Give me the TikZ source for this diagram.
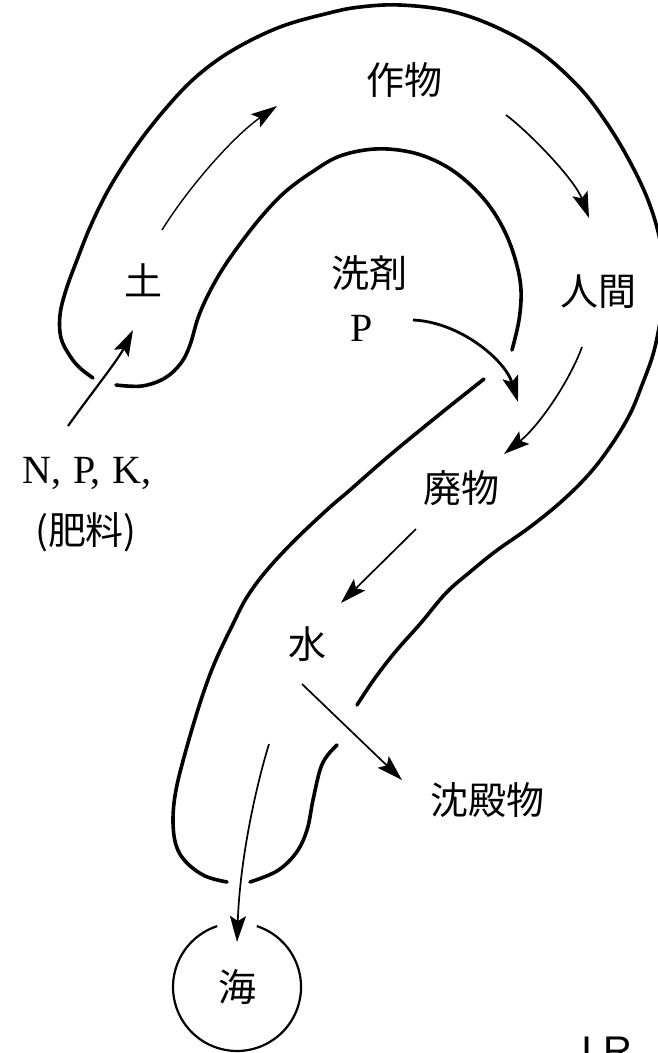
\documentclass[tikz,border=0pt]{standalone}
\usepackage{fontspec}
\setmainfont{Liberation Serif}
\newfontfamily\cjk{Noto Sans CJK JP}
\newfontfamily\sanf{Liberation Sans}
\usetikzlibrary{arrows.meta}
\begin{document}
\begin{tikzpicture}[x=1pt,y=-1pt,
  tube/.style={line width=3.6pt, line cap=round, line join=round},
  flow/.style={line width=1.7pt, -{Stealth[length=26pt,width=16pt,inset=5pt]}},
  lbl/.style={font=\cjk\fontsize{38}{40}\selectfont, inner sep=0pt},
  lat/.style={font=\fontsize{40}{42}\selectfont, inner sep=0pt}]
\clip (0,0) rectangle (658,1053);
\fill[white] (0,0) rectangle (658,1053);

% labels
\node[lbl] (tsuchi) at (143,280) {土};
\node[lbl] (sakumotsu) at (404,80) {作物};
\node[lbl] (senzai) at (369,273) {洗剤};
\node[lat] (p) at (362,328) {P};
\node[lbl] (ningen) at (598,292) {人間};
\node[lbl] (haibutsu) at (461,488) {廃物};
\node[lbl] (mizu) at (307,644) {水};
\node[lbl] (chinden) at (487,800) {沈殿物};
\node[lbl] (umi) at (237,987) {海};
\node[lat] (npk) at (87,473) {N,\kern12pt P,\kern12pt K,};
\node[lbl] (hiryo) at (86,532) {(肥料)};
\node[font=\sanf\fontsize{40}{42}\selectfont, anchor=base west, inner sep=0pt] (ir) at (581,1064) {I R};

% tube outline (question mark)
\draw[tube] plot[smooth, tension=0.6] coordinates {(116,385) (142,386) (165,378) (181,363) (190,345) (198,318) (208,295) (222,270) (240,244) (262,216) (285,192) (312,172) (340,156) (375,149) (410,152) (440,163) (465,180) (488,204) (505,232) (516,262) (521,290) (519,320) (512,350)};
\draw[tube] plot[smooth, tension=0.6] coordinates {(484,379) (440,414) (390,455) (350,490) (329,508) (295,540) (267,570) (247,597) (233,624) (215,662) (201,700) (186,750) (176,790) (173,820) (176,845) (186,862) (205,876) (227,882)};
\draw[tube] plot[smooth, tension=0.6] coordinates {(250,882) (277,871) (296,853) (307,830) (313,800) (320,770) (327,756) (337,745)};
\draw[tube] plot[smooth, tension=0.6] coordinates {(357,705) (375,678) (396,651) (420,624) (446,593) (470,572) (496,551) (530,527) (562,501) (590,473) (612,444) (630,414) (642,385) (654,351) (662,310) (665,280) (660,240) (648,200) (629,160) (606,122) (579,87) (540,52) (496,27) (450,11) (400,5) (360,7) (329,13) (280,27) (233,50) (197,76) (167,107) (137,145) (110,187) (91,225) (77,260) (66,290) (60,315) (61,338) (70,356) (80,368) (93,378)};

% sea circle with a gap at the top
\draw[line width=2.2pt] (umi.center) ++(19.8,-60.9) arc[start angle=72, end angle=-252, radius=64pt];

% arrow end points
\coordinate (tsuchi-out) at (162,230);
\coordinate (sakumotsu-in) at (277,106);
\coordinate (sakumotsu-out) at (506,115);
\coordinate (ningen-in) at (589,218);
\coordinate (p-out) at (413,320);
\coordinate (p-in) at (518,402);
\coordinate (ningen-out) at (582,347);
\coordinate (haibutsu-in) at (504,454);
\coordinate (haibutsu-out) at (416,529);
\coordinate (mizu-in) at (341,603);
\coordinate (mizu-out) at (302,684);
\coordinate (chinden-in) at (402,780);
\coordinate (umi-from) at (269,744);
\coordinate (umi-in) at (237,942);
\coordinate (npk-out) at (68,426);
\coordinate (tsuchi-in) at (133,330);

% flows
\draw[flow, line width=1.4pt] (tsuchi-out) .. controls (190,185) and (235,135) .. (sakumotsu-in);
\draw[flow] (sakumotsu-out) .. controls (530,133) and (575,180) .. (ningen-in);
\draw[flow, line width=2.8pt] (p-out) .. controls (460,322) and (505,360) .. (p-in);
\draw[flow] (ningen-out) .. controls (570,380) and (540,425) .. (haibutsu-in);
\draw[flow] (haibutsu-out) -- (mizu-in);
\draw[flow] (mizu-out) -- (chinden-in);
\draw[flow] (umi-from) .. controls (255,790) and (240,860) .. (umi-in);
\draw[flow, line width=2.2pt] (npk-out) .. controls (90,395) and (118,360) .. (tsuchi-in);
\end{tikzpicture}
\end{document}
